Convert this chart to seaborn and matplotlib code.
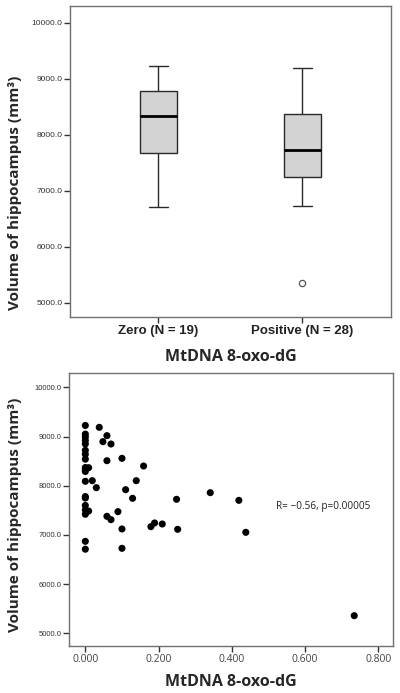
import numpy as np
import pandas as pd
import matplotlib
matplotlib.use("Agg")
import matplotlib.pyplot as plt
import seaborn as sns

#%% data
groups = ["Zero (N = 19)", "Positive (N = 28)"]

# hippocampus volume for subjects with zero mtDNA 8-oxo-dG
zero_vol = [6710, 6870, 7420, 7510, 7600, 7750, 7780, 8090, 8290, 8330,
            8370, 8540, 8640, 8720, 8850, 8920, 8990, 9050, 9225]

# positive mtDNA 8-oxo-dG: level and volume
pos_x = [0.038, 0.059, 0.048, 0.070, 0.059, 0.100, 0.159, 0.139, 0.110, 0.129,
         0.249, 0.341, 0.419, 0.089, 0.059, 0.070, 0.100, 0.100, 0.179, 0.189,
         0.210, 0.252, 0.438, 0.734, 0.019, 0.030, 0.009, 0.009]
pos_vol = [9187, 9018, 8896, 8848, 8509, 8557, 8401, 8103, 7920, 7744,
           7724, 7859, 7703, 7473, 7378, 7310, 7121, 6728, 7168, 7243,
           7222, 7114, 7053, 5359, 8103, 7961, 8367, 7486]

yticks = [5000, 6000, 7000, 8000, 9000, 10000]
xticks_sc = [0.0, 0.2, 0.4, 0.6, 0.8]
annot = "R= \u22120.56, p=0.00005"

#%% table
df = pd.DataFrame({
    "group": [groups[0]] * len(zero_vol) + [groups[1]] * len(pos_vol),
    "oxo": [0.0] * len(zero_vol) + pos_x,
    "volume": zero_vol + pos_vol,
})

#%% style
sns.set_style("white")
plt.rcParams["font.family"] = ["Liberation Sans", "DejaVu Sans"]
label_font = dict(family=["Open Sans", "DejaVu Sans"], fontweight="bold")
spine_col = "#707070"
ylab = "Volume of hippocampus (mm\u00b3)"

fig = plt.figure(figsize=(4, 6.93), dpi=100)
ax1 = fig.add_axes([0.175, 0.5426, 0.8025, 0.4488])
ax2 = fig.add_axes([0.1733, 0.0678, 0.8085, 0.3935])

#%% box plot
sns.boxplot(data=df, x="group", y="volume", order=groups, ax=ax1,
            width=0.26, color="#d3d3d3", linecolor="#2a2a2a", linewidth=1.0,
            fliersize=4.5,
            medianprops=dict(color="black", linewidth=2.0),
            flierprops=dict(marker="o", markerfacecolor="white",
                            markeredgecolor="#555555", markeredgewidth=0.9))
ax1.set_xlim(-0.613, 1.616)
ax1.set_ylim(4745, 10298)
ax1.set_yticks(yticks)
ax1.set_yticklabels([f"{v:.1f}" for v in yticks], fontsize=6, color="#333333")
ax1.set_xticks([0, 1])
ax1.set_xticklabels(groups, fontsize=9.5, fontweight="bold", color="#222222")
ax1.set_xlabel("MtDNA 8-oxo-dG", fontsize=11.5, labelpad=9, **label_font)
ax1.set_ylabel(ylab, fontsize=11, **label_font)
ax1.yaxis.set_label_coords(-0.148, 0.40)

#%% scatter
sns.scatterplot(data=df, x="oxo", y="volume", ax=ax2, color="black",
                s=26, edgecolor="none", legend=False)
ax2.set_xlim(-0.0437, 0.839)
ax2.set_ylim(4742, 10285)
ax2.set_yticks(yticks)
ax2.set_yticklabels([f"{v:.1f}" for v in yticks], fontsize=5.5, color="#333333")
ax2.set_xticks(xticks_sc)
ax2.set_xticklabels([f"{v:.3f}" for v in xticks_sc], fontsize=7.5,
                    color="#444444", family=["Open Sans", "DejaVu Sans"])
ax2.set_xlabel("MtDNA 8-oxo-dG", fontsize=11.5, labelpad=7, **label_font)
ax2.set_ylabel(ylab, fontsize=11, **label_font)
ax2.yaxis.set_label_coords(-0.145, 0.48)
ax2.text(0.521, 7570, annot, fontsize=7.2, va="center", ha="left",
         color="#222222", family=["Open Sans", "DejaVu Sans"])

for ax in (ax1, ax2):
    for sp in ax.spines.values():
        sp.set_visible(True)
        sp.set_color(spine_col)
        sp.set_linewidth(1.0)
    ax.tick_params(axis="both", which="major", direction="out", length=4,
                   width=1.0, color="#333333", pad=1.5, bottom=True, left=True)
    ax.grid(False)

fig.savefig("out.png", dpi=100)
